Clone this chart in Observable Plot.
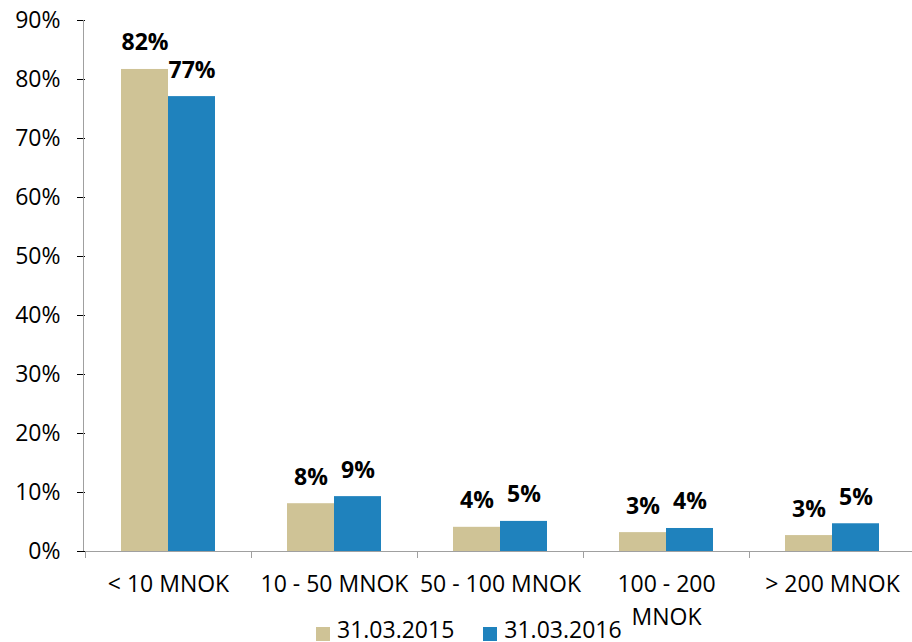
<!DOCTYPE html>
<html><head><meta charset="utf-8">
<script src="https://cdn.jsdelivr.net/npm/d3@7"></script>
<script src="https://cdn.jsdelivr.net/npm/@observablehq/plot@0.6"></script>
<style>
body{margin:0;background:#fff;}
#wrap{position:relative;width:912px;height:642px;overflow:hidden;background:#fff;}
#chart svg{max-width:none;}
#legend{position:absolute;left:316px;top:618px;display:flex;align-items:flex-start;font:23px/23px "Open Sans",sans-serif;color:#000;white-space:nowrap;}
#legend .item{display:flex;align-items:flex-start;margin-right:29px;}
#legend .sw{width:14px;height:14px;margin-right:7px;margin-top:9px;}
</style></head><body>
<div id="wrap"><div id="chart"></div><div id="legend"></div></div>
<script>
const categories = ["< 10 MNOK", "10 - 50 MNOK", "50 - 100 MNOK", "100 - 200 MNOK", "> 200 MNOK"];
const tickLabels = ["< 10 MNOK", "10 - 50 MNOK", "50 - 100 MNOK", "100 - 200\nMNOK", "> 200 MNOK"];
const seriesNames = ["31.03.2015", "31.03.2016"];
const values2015 = [0.817, 0.081, 0.041, 0.032, 0.027];
const values2016 = [0.771, 0.093, 0.051, 0.039, 0.047];
const valueLabels2015 = ["82%", "8%", "4%", "3%", "3%"];
const valueLabels2016 = ["77%", "9%", "5%", "4%", "5%"];
const seriesColors = ["#cfc396", "#1f82bd"];
const yTicks = [0, 0.1, 0.2, 0.3, 0.4, 0.5, 0.6, 0.7, 0.8, 0.9];

const rows = categories.flatMap((c, i) => [
  {cat: c, series: seriesNames[0], value: values2015[i], label: valueLabels2015[i]},
  {cat: c, series: seriesNames[1], value: values2016[i], label: valueLabels2016[i]}
]);

const plot = Plot.plot({
  width: 917, height: 642,
  marginLeft: 83, marginRight: 0, marginTop: 20, marginBottom: 91,
  style: {fontFamily: '"Open Sans", sans-serif', fontSize: "23px", color: "#000", background: "#fff", overflow: "visible"},
  fx: {domain: categories, padding: 0, axis: null, label: null},
  x: {domain: seriesNames, paddingInner: 0, paddingOuter: 0.755, axis: null},
  y: {domain: [0, 0.9], ticks: yTicks, tickFormat: ".0%", tickSize: 8, tickPadding: 17, label: null},
  color: {domain: seriesNames, range: seriesColors},
  marks: [
    Plot.barY(rows, {fx: "cat", x: "series", y: "value", fill: "series"}),
    Plot.ruleY([0], {stroke: "#a0a0a0"}),
    Plot.text(rows, {fx: "cat", x: "series", y: "value", text: "label", fontWeight: "bold", fontSize: 23, lineAnchor: "bottom", dy: -19}),
    Plot.text(categories, {fx: d => d, text: (d, i) => tickLabels[i], frameAnchor: "bottom", lineAnchor: "top", dy: 18, lineHeight: 1.4})
  ]
});

document.getElementById("chart").appendChild(plot);

const svg = d3.select(plot);
svg.selectAll('[aria-label="y-axis tick"]').attr("stroke", "#a0a0a0");
svg.selectAll('[aria-label="y-axis"] line').attr("stroke", "#a0a0a0");
const fx = plot.scale("fx"), y = plot.scale("y");
const y0 = y.apply(0), yTop = y.apply(0.9);
const g = svg.append("g").attr("stroke", "#a0a0a0").attr("stroke-width", 1);
g.append("line").attr("x1", fx.range[0] + 0.5).attr("x2", fx.range[0] + 0.5).attr("y1", yTop).attr("y2", y0);
const bounds = categories.map(c => fx.apply(c)).concat([fx.range[1]]);
bounds.forEach(b => g.append("line").attr("x1", b + 0.5).attr("x2", b + 0.5).attr("y1", y0).attr("y2", y0 + 7));

const legend = d3.select("#legend");
seriesNames.forEach((s, i) => {
  const it = legend.append("div").attr("class", "item");
  it.append("div").attr("class", "sw").style("background", seriesColors[i]);
  it.append("span").text(s);
});
</script>
</body></html>
